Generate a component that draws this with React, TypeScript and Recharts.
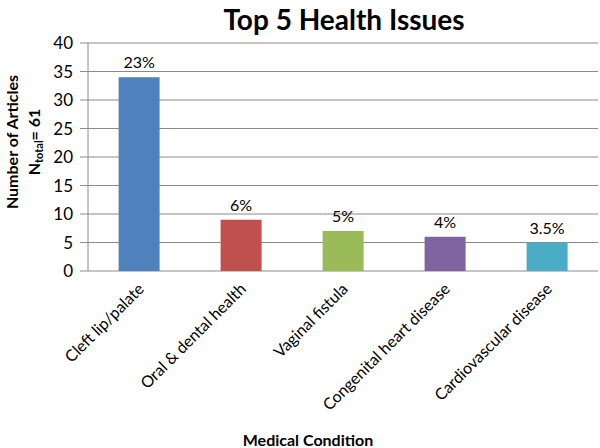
import React from "react";
import { BarChart, Bar, XAxis, YAxis, CartesianGrid, Cell, LabelList } from "recharts";

const categories = [
  "Cleft lip/palate",
  "Oral & dental health",
  "Vaginal fistula",
  "Congenital heart disease",
  "Cardiovascular disease",
];
const articles = [34, 9, 7, 6, 5];
const shares = ["23%", "6%", "5%", "4%", "3.5%"];
const barColors = ["#4F81BD", "#C0504D", "#9BBB59", "#8064A2", "#4BACC6"];
const yTicks = [0, 5, 10, 15, 20, 25, 30, 35, 40];
const boundaryTicks = [0, 1, 2, 3, 4, 5];

const data = categories.map((name, i) => ({
  name,
  articles: articles[i],
  share: shares[i],
}));

const FONT = "Lato, 'Open Sans', sans-serif";
const GRID = "#8a8a8a";

function CategoryTick(props: any) {
  const { x, y, payload } = props;
  return (
    <text
      x={x + 6}
      y={y + 11}
      transform={`rotate(-45 ${x + 6} ${y + 11})`}
      textAnchor="end"
      fontSize={16}
      fontFamily={FONT}
      fill="#000"
    >
      {payload.value}
    </text>
  );
}

function YTitle(props: any) {
  const vb = props.viewBox || {};
  const cy = vb.y + vb.height / 2 - 15;
  return (
    <g fontFamily={FONT} fontWeight="bold" fontSize={16} fill="#000">
      <text transform={`translate(18 ${cy}) rotate(-90)`} textAnchor="middle">
        Number of Articles
      </text>
      <text transform={`translate(40 ${cy}) rotate(-90)`} textAnchor="middle">
        N<tspan fontSize={11} dy={3}>total</tspan>
        <tspan dy={-3}>= 61</tspan>
      </text>
    </g>
  );
}

export default function App() {
  return (
    <div style={{ position: "absolute", left: 0, top: 0, width: 600, height: 448, background: "#fff" }}>
      <div
        style={{
          position: "absolute",
          left: 88,
          width: 512,
          top: 0,
          textAlign: "center",
          fontFamily: FONT,
          fontWeight: "bold",
          fontSize: 28,
          lineHeight: "38px",
          color: "#000",
        }}
      >
        Top 5 Health Issues
      </div>
      <div
        style={{
          position: "absolute",
          left: 88,
          width: 440,
          top: 430,
          textAlign: "center",
          fontFamily: FONT,
          fontWeight: "bold",
          fontSize: 16,
          color: "#000",
        }}
      >
        Medical Condition
      </div>
      <BarChart
        width={600}
        height={448}
        data={data}
        margin={{ top: 43, right: 2, left: 0, bottom: 0 }}
        barCategoryGap="30%"
      >
        <CartesianGrid stroke={GRID} vertical={false} />
        <XAxis
          xAxisId="edges"
          type="number"
          domain={[0, 5]}
          ticks={boundaryTicks}
          height={0}
          stroke={GRID}
          tickSize={7}
          tickFormatter={() => ""}
        />
        <XAxis
          xAxisId="cat"
          dataKey="name"
          interval={0}
          height={177}
          axisLine={false}
          tickLine={false}
          tick={<CategoryTick />}
        />
        <YAxis
          width={88}
          domain={[0, 40]}
          ticks={yTicks}
          stroke={GRID}
          tickSize={8}
          tickMargin={7}
          tick={{ fill: "#000", fontSize: 17, fontFamily: FONT }}
          label={<YTitle />}
        />
        <Bar xAxisId="cat" dataKey="articles" isAnimationActive={false}>
          {data.map((d, i) => (
            <Cell key={d.name} fill={barColors[i]} />
          ))}
          <LabelList
            dataKey="share"
            position="top"
            offset={9}
            fill="#000"
            fontSize={16}
            fontFamily={FONT}
          />
        </Bar>
      </BarChart>
    </div>
  );
}
